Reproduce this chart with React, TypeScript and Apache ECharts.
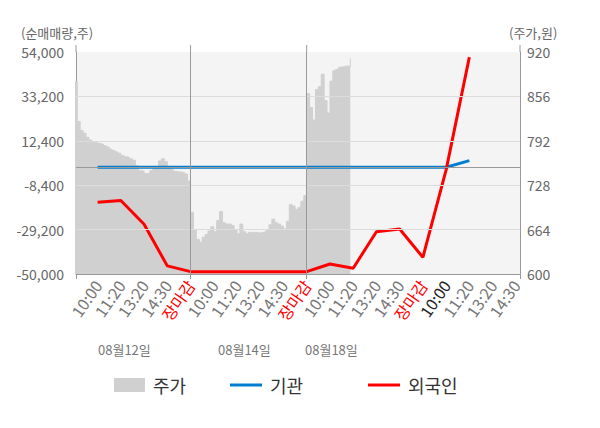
import React, { useEffect, useRef } from "react";
import * as echarts from "echarts";

const timeLabels = [
  "10:00", "11:20", "13:20", "14:30", "장마감",
  "10:00", "11:20", "13:20", "14:30", "장마감",
  "10:00", "11:20", "13:20", "14:30", "장마감",
  "10:00", "11:20", "13:20", "14:30",
];
const currentIndex = 15;
const closeLabel = "장마감";
const dateLabels = ["08월12일", "08월14일", "08월18일"];

const leftTicks = [-50000, -29200, -8400, 12400, 33200, 54000];
const rightTicks = [600, 664, 728, 792, 856, 920];

// 기관 순매매량 (주)
const institution = [0, 0, 0, 0, 0, 0, 0, 0, 0, 0, 0, 0, 0, 0, 0, 0, 3100];
// 외국인 순매매량 (주)
const foreign = [
  -16400, -15600, -26700, -46200, -48900, -48900, -48900, -48900, -48900,
  -48900, -45300, -47300, -30200, -28900, -42200, -1200, 51600,
];

// 주가 (원), samples per trading day
const samplesPerDay = 40;
const priceDay1 = [
  877, 820, 807, 803, 797, 793, 790, 789, 788, 787,
  785, 783, 780, 778, 776, 774, 771, 769, 768, 766,
  764, 756, 749, 748, 745, 745, 749, 752, 754, 763,
  766, 762, 755, 751, 748, 747, 747, 746, 744, 734,
];
const priceDay2 = [
  689, 664, 650, 646, 653, 657, 662, 668, 661, 677,
  690, 674, 672, 672, 670, 664, 658, 672, 661, 658,
  660, 660, 660, 659, 660, 661, 664, 671, 679, 674,
  672, 669, 665, 676, 700, 698, 693, 696, 705, 713,
];
const priceDay3 = [
  860, 840, 822, 866, 870, 888, 850, 832, 878, 893,
  895, 898, 899, 900, 899, 911,
];

const FONT = "'Noto Sans CJK KR', 'Noto Sans', sans-serif";

export default function App() {
  const ref = useRef<HTMLDivElement>(null);

  useEffect(() => {
    document.body.style.margin = "0";
    if (!ref.current) return;
    const chart = echarts.init(ref.current, undefined, { renderer: "svg" });

    const xMin = -0.93;
    const xMax = timeLabels.length - 1 + 0.18;
    const dayStart = -1;
    const dayLen = timeLabels.indexOf(closeLabel) + 1;
    const priceData: number[][] = [];
    [priceDay1, priceDay2, priceDay3].forEach((arr, d) => {
      arr.forEach((v, i) => {
        priceData.push([dayStart + d * dayLen + (i * dayLen) / samplesPerDay, v]);
      });
    });
    const sepIdx = timeLabels
      .map((t, i) => (t === closeLabel ? i : -1))
      .filter((i) => i >= 0 && i < 14);

    const labelVals = timeLabels.map((_, i) => i);
    const gridTop = 52;

    const option: any = {
      animation: false,
      textStyle: { fontFamily: FONT },
      grid: {
        left: 76,
        right: 80,
        top: gridTop,
        bottom: 154,
        show: true,
        backgroundColor: "#f4f4f4",
        borderWidth: 0,
      },
      xAxis: {
        type: "value",
        min: xMin,
        max: xMax,
        axisLine: { show: true, onZero: false, lineStyle: { color: "#999", width: 1 } },
        axisTick: {
          show: true,
          customValues: [xMin, ...sepIdx, xMax],
          length: 5,
          lineStyle: { color: "#999" },
        },
        splitLine: { show: false },
        axisLabel: {
          customValues: labelVals,
          rotate: 55,
          margin: 8,
          fontSize: 16,
          fontFamily: FONT,
          formatter: (v: number) => {
            const i = Math.round(v);
            const t = timeLabels[i];
            if (t == null) return "";
            if (t === closeLabel) return "{r|" + t + "}";
            if (i === currentIndex) return "{k|" + t + "}";
            return "{g|" + t + "}";
          },
          rich: {
            r: { color: "#ff0000", fontSize: 16, fontFamily: FONT },
            k: { color: "#222222", fontSize: 16, fontFamily: FONT },
            g: { color: "#777777", fontSize: 16, fontFamily: FONT },
          },
        },
      },
      yAxis: [
        {
          type: "value",
          min: leftTicks[0],
          max: leftTicks[leftTicks.length - 1],
          interval: leftTicks[1] - leftTicks[0],
          axisLine: { show: true, onZero: false, lineStyle: { color: "#999" } },
          axisTick: { show: false },
          splitLine: { show: false },
          axisLabel: {
            margin: 12,
            fontSize: 14,
            color: "#666",
            fontFamily: FONT,
            formatter: (v: number) => v.toLocaleString("en-US"),
          },
        },
        {
          type: "value",
          min: rightTicks[0],
          max: rightTicks[rightTicks.length - 1],
          interval: rightTicks[1] - rightTicks[0],
          axisLine: { show: true, onZero: false, lineStyle: { color: "#999" } },
          axisTick: { show: false },
          splitLine: { show: false },
          axisLabel: {
            margin: 7,
            fontSize: 14,
            color: "#666",
            fontFamily: FONT,
          },
        },
      ],
      legend: [
        { name: "주가", left: 114, h: 14 },
        { name: "기관", left: 230, h: 3 },
        { name: "외국인", left: 368, h: 3 },
      ].map((l) => ({
        data: [{ name: l.name, icon: "rect" }],
        left: l.left,
        top: 376,
        padding: 0,
        itemWidth: l.h === 14 ? 31 : 32,
        itemHeight: l.h,
        textStyle: { fontSize: 18, color: "#333", fontFamily: FONT, padding: [0, 0, 0, 3] },
      })),
      graphic: [
        {
          type: "text",
          left: 21,
          top: 26,
          style: { text: "(순매매량,주)", fontSize: 13, fill: "#666", fontFamily: FONT },
        },
        {
          type: "text",
          left: 509,
          top: 26,
          style: { text: "(주가,원)", fontSize: 13, fill: "#666", fontFamily: FONT },
        },
        ...dateLabels.map((t, i) => ({
          type: "text",
          left: [98, 218, 305][i],
          top: 343,
          style: { text: t, fontSize: 13, fill: "#777", fontFamily: FONT },
        })),
      ],
      series: [
        {
          name: "주가",
          type: "line",
          yAxisIndex: 1,
          step: "end",
          symbol: "none",
          data: priceData,
          itemStyle: { color: "#d0d0d0" },
          lineStyle: { color: "#d0d0d0", width: 1 },
          areaStyle: { color: "#d0d0d0", opacity: 1, origin: "start" },
          z: 1,
        },
        {
          name: "guides",
          type: "line",
          yAxisIndex: 0,
          data: [],
          z: 2,
          markLine: {
            silent: true,
            symbol: ["none", "none"],
            label: { show: false },
            animation: false,
            data: [
              ...leftTicks.slice(1, -1).map((v) => [
                { coord: [xMin, v], lineStyle: { color: "#dcdcdc", width: 1, type: "solid" } },
                { coord: [xMax, v] },
              ]),
              [
                { coord: [xMin, 0], lineStyle: { color: "#999", width: 1, type: "solid" } },
                { coord: [xMax, 0] },
              ],
              ...sepIdx.map((i) => [
                { coord: [i, leftTicks[0]], lineStyle: { color: "#999", width: 1, type: "solid" } },
                { coord: [i, leftTicks[leftTicks.length - 1]] },
              ]),
            ],
          },
        },
        {
          name: "기관",
          type: "line",
          yAxisIndex: 0,
          symbol: "none",
          data: institution.map((v, i) => [i, v]),
          itemStyle: { color: "#007dd0" },
          lineStyle: { color: "#007dd0", width: 3 },
          z: 3,
        },
        {
          name: "외국인",
          type: "line",
          yAxisIndex: 0,
          symbol: "none",
          data: foreign.map((v, i) => [i, v]),
          itemStyle: { color: "#ff0000" },
          lineStyle: { color: "#ff0000", width: 3 },
          z: 4,
        },
      ],
    };

    chart.setOption(option);

    // extend axis and separator lines slightly above the plot area
    const ext = [xMin, ...sepIdx, xMax].map((v) => {
      const px = chart.convertToPixel({ xAxisIndex: 0 }, v) as number;
      return {
        type: "line",
        silent: true,
        shape: { x1: px, y1: gridTop - 7, x2: px, y2: gridTop },
        style: { stroke: "#999", lineWidth: 1 },
      };
    });
    chart.setOption({ graphic: [...option.graphic, ...ext] });

    return () => chart.dispose();
  }, []);

  return <div ref={ref} style={{ width: 600, height: 428 }} />;
}
